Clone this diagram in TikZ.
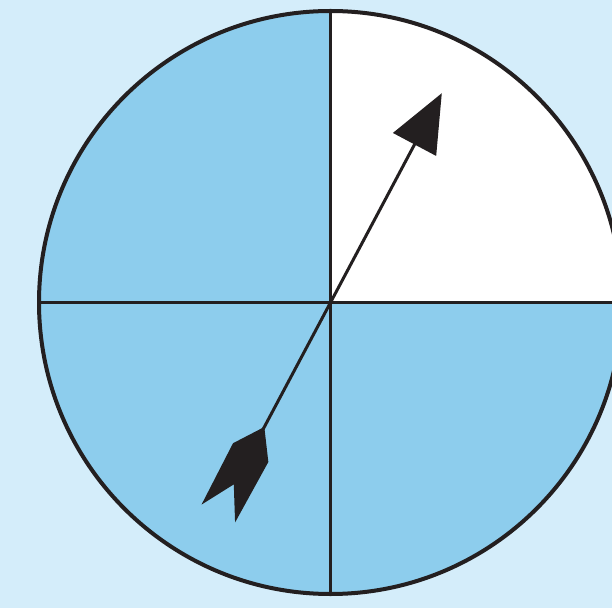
\documentclass[tikz,border=0pt]{standalone}
\usepackage{xcolor}
\usepackage{tikz}
\usetikzlibrary{calc}
\definecolor{skybg}{RGB}{212,237,250}
\definecolor{wedgeblue}{RGB}{141,205,237}
\definecolor{inkblack}{RGB}{35,31,32}
\tikzset{rimline/.style={draw=inkblack,line width=4pt},
  splitline/.style={draw=inkblack,line width=3pt},
  pointer/.style={fill=inkblack}}
\begin{document}
\begin{tikzpicture}[x=1pt,y=1pt]
\useasboundingbox (0,0) rectangle (612,608);
\clip (0,0) rectangle (612,608);
\fill[skybg] (0,0) rectangle (612,608);
\coordinate (O) at (330.5,305.5);
\def\rad{291.5}
\coordinate (W) at ($(O)+(-\rad,0)$);
\coordinate (E) at ($(O)+(\rad,0)$);
\coordinate (N) at ($(O)+(0,\rad)$);
\coordinate (S) at ($(O)+(0,-\rad)$);
\fill[wedgeblue] (O) circle (\rad);
\fill[white] (O) -- (E) arc (0:90:\rad) -- cycle;
\draw[splitline] (W) -- (E);
\draw[splitline] (N) -- (S);
\draw[rimline] (O) circle (\rad);
\begin{scope}[shift={(O)},rotate=62]
\coordinate (tail) at (-150,0);
\coordinate (head) at (185,0);
\draw[splitline] (tail) -- (head);
\fill[pointer] (237,0) -- (179,24.5) -- (179,-24.5) -- cycle;
\fill[pointer] (-141,0) -- (-170,20) -- (-239,19) -- (-206,0) -- (-239,-19) -- (-170,-20) -- cycle;
\end{scope}
\end{tikzpicture}
\end{document}
